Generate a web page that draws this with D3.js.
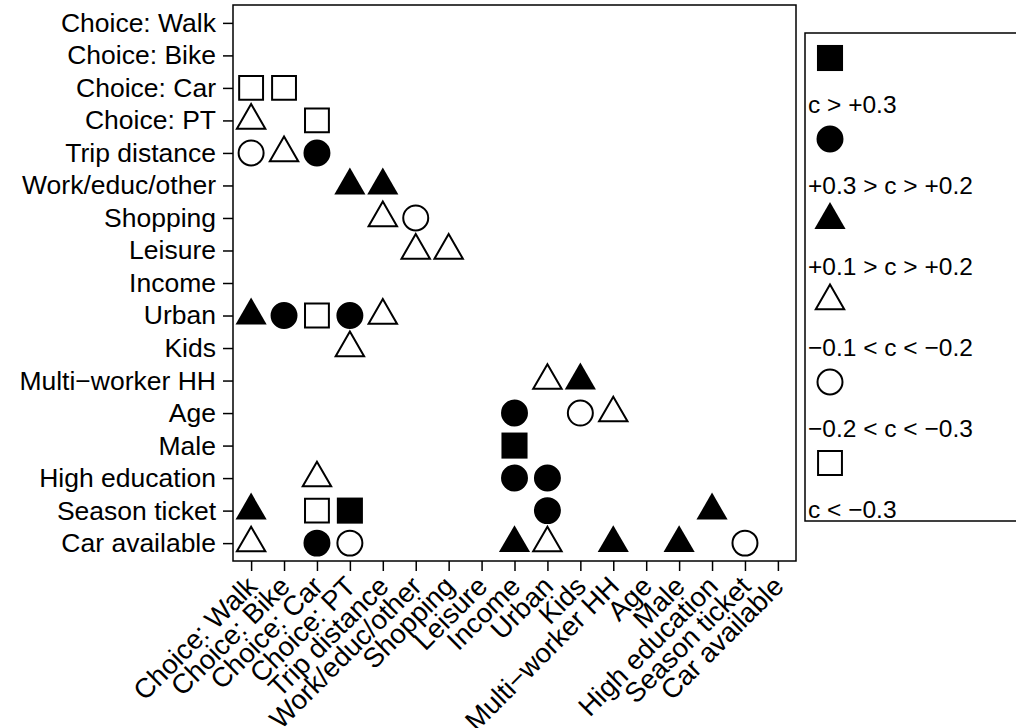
<!DOCTYPE html>
<html>
<head>
<meta charset="utf-8">
<script src="https://cdn.jsdelivr.net/npm/d3@7"></script>
<style>
  body { margin: 0; background: #fff; }
  svg { display: block; font-family: "Liberation Sans", Arial, Helvetica, sans-serif; }
</style>
</head>
<body>
<script>
    // variables, in the order used on both axes
    var categories = ["Choice: Walk", "Choice: Bike", "Choice: Car", "Choice: PT", "Trip distance",
        "Work/educ/other", "Shopping", "Leisure", "Income", "Urban", "Kids", "Multi\u2212worker HH",
        "Age", "Male", "High education", "Season ticket", "Car available"];

    // correlation classes, legend order
    var classLabels = ["c > +0.3", "+0.3 > c > +0.2", "+0.1 > c > +0.2",
        "\u22120.1 < c < \u22120.2", "\u22120.2 < c < \u22120.3", "c < \u22120.3"];

    // [row, column] pairs per class
    var posStrong = [["Male", "Income"], ["Season ticket", "Choice: PT"]];
    var posMedium = [["Trip distance", "Choice: Car"], ["Urban", "Choice: Bike"], ["Urban", "Choice: PT"],
        ["Age", "Income"], ["High education", "Income"], ["High education", "Urban"],
        ["Season ticket", "Urban"], ["Car available", "Choice: Car"]];
    var posWeak = [["Work/educ/other", "Choice: PT"], ["Work/educ/other", "Trip distance"],
        ["Urban", "Choice: Walk"], ["Multi\u2212worker HH", "Kids"], ["Season ticket", "Choice: Walk"],
        ["Season ticket", "High education"], ["Car available", "Income"],
        ["Car available", "Multi\u2212worker HH"], ["Car available", "Male"]];
    var negWeak = [["Choice: PT", "Choice: Walk"], ["Trip distance", "Choice: Bike"],
        ["Shopping", "Trip distance"], ["Leisure", "Work/educ/other"], ["Leisure", "Shopping"],
        ["Urban", "Trip distance"], ["Kids", "Choice: PT"], ["Multi\u2212worker HH", "Urban"],
        ["Age", "Multi\u2212worker HH"], ["High education", "Choice: Car"],
        ["Car available", "Choice: Walk"], ["Car available", "Urban"]];
    var negMedium = [["Trip distance", "Choice: Walk"], ["Shopping", "Work/educ/other"],
        ["Age", "Kids"], ["Car available", "Choice: PT"], ["Car available", "Season ticket"]];
    var negStrong = [["Choice: Car", "Choice: Walk"], ["Choice: Car", "Choice: Bike"],
        ["Choice: PT", "Choice: Car"], ["Urban", "Choice: Car"], ["Season ticket", "Choice: Car"]];

    var classPairs = [posStrong, posMedium, posWeak, negWeak, negMedium, negStrong];

    // symbol per class: shape + filled
    var shapes = [
        {type: d3.symbolSquare, size: 680, fill: true},
        {type: d3.symbolCircle, size: 570, fill: true},
        {type: d3.symbolTriangle, size: 420, fill: true},
        {type: d3.symbolTriangle, size: 350, fill: false},
        {type: d3.symbolCircle, size: 490, fill: false},
        {type: d3.symbolSquare, size: 570, fill: false}
    ];

    var width = 1016, height = 728;
    var margin = {top: 5, right: 220, bottom: 167, left: 233};

    var svg = d3.select("body")
        .append("svg")
        .attr("width", width)
        .attr("height", height);

    var x = d3.scalePoint().domain(categories)
        .range([margin.left, width - margin.right]).padding(0.55);
    var y = d3.scalePoint().domain(categories)
        .range([margin.top, height - margin.bottom]).padding(0.55);

    var symbolPath = function(s) {
        return d3.symbol().type(s.type).size(s.size)();
    };

    var styleSymbol = function(sel, s) {
        sel.attr("fill", s.fill ? "#000" : "none")
            .attr("stroke", s.fill ? "none" : "#000")
            .attr("stroke-width", 2);
    };

    // points
    classPairs.forEach(function(pairs, i) {
        svg.append("g").selectAll("path")
            .data(pairs)
            .enter().append("path")
            .attr("d", symbolPath(shapes[i]))
            .attr("transform", function(d) {
                return "translate(" + x(d[1]) + "," + y(d[0]) + ")";
            })
            .call(styleSymbol, shapes[i]);
    });

    // axes
    var yAxis = svg.append("g")
        .attr("transform", "translate(" + margin.left + ",0)")
        .call(d3.axisLeft(y).tickSize(10).tickPadding(7));
    yAxis.select(".domain").remove();
    yAxis.selectAll("line").attr("stroke-width", 1.5);
    yAxis.selectAll("text").style("font-size", "26.5px").attr("fill", "#000");

    var xAxis = svg.append("g")
        .attr("transform", "translate(0," + (height - margin.bottom) + ")")
        .call(d3.axisBottom(x).tickSize(10));
    xAxis.select(".domain").remove();
    xAxis.selectAll("line").attr("stroke-width", 1.5);
    xAxis.selectAll("text")
        .attr("y", 0)
        .attr("x", 0)
        .attr("dy", 0)
        .attr("transform", "translate(7,27) rotate(-45)")
        .style("text-anchor", "end")
        .style("font-size", "27.5px")
        .attr("fill", "#000");

    // plot frame
    svg.append("rect")
        .attr("x", margin.left)
        .attr("y", margin.top)
        .attr("width", width - margin.right - margin.left)
        .attr("height", height - margin.bottom - margin.top)
        .attr("fill", "none")
        .attr("stroke", "#000")
        .attr("stroke-width", 1.5);

    // legend
    var legend = svg.append("g");
    legend.append("rect")
        .attr("x", 805).attr("y", 33)
        .attr("width", 230).attr("height", 488)
        .attr("fill", "none").attr("stroke", "#000").attr("stroke-width", 1.5);

    var entries = legend.selectAll(".entry")
        .data(classLabels)
        .enter().append("g")
        .attr("class", "entry")
        .attr("transform", function(d, i) { return "translate(0," + (i * 81) + ")"; });

    entries.append("path")
        .attr("d", function(d, i) { return symbolPath(shapes[i]); })
        .attr("transform", "translate(830,58)")
        .each(function(d, i) { d3.select(this).call(styleSymbol, shapes[i]); });

    entries.append("text")
        .attr("x", 808)
        .attr("y", 104)
        .attr("dy", "0.35em")
        .style("font-size", "24.5px")
        .text(function(d) { return d; });
</script>
</body>
</html>
